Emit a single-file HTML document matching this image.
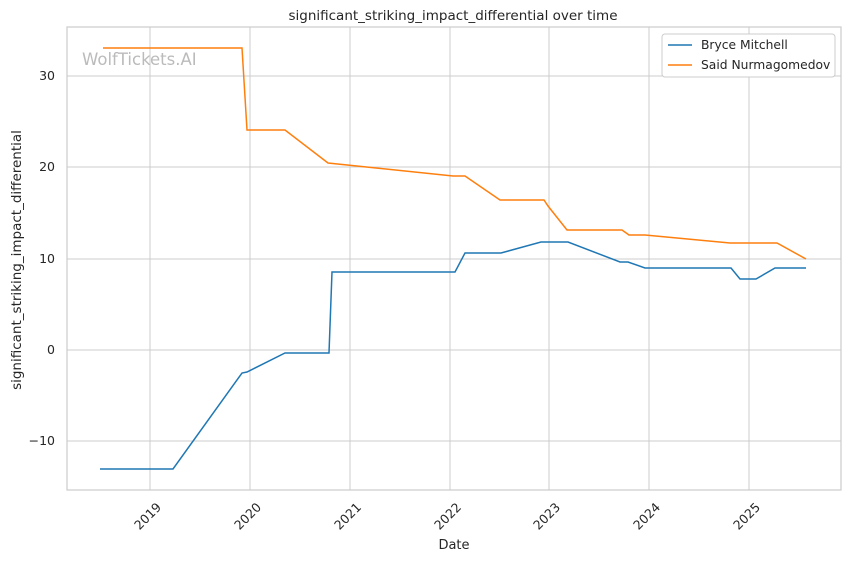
<!DOCTYPE html>
<html><head><meta charset="utf-8"><style>
body{margin:0;background:#fff;}
svg{display:block;font-family:"DejaVu Sans","Liberation Sans",sans-serif;}
</style></head><body>
<svg width="850" height="561" viewBox="0 0 850 561" xmlns="http://www.w3.org/2000/svg">
<rect width="850" height="561" fill="#fff"/>
<g stroke="#cccccc" stroke-width="1">
<line x1="150" y1="27" x2="150" y2="490"/><line x1="250" y1="27" x2="250" y2="490"/>
<line x1="350" y1="27" x2="350" y2="490"/><line x1="450" y1="27" x2="450" y2="490"/>
<line x1="549" y1="27" x2="549" y2="490"/><line x1="649" y1="27" x2="649" y2="490"/>
<line x1="749" y1="27" x2="749" y2="490"/>
<line x1="67" y1="76" x2="841" y2="76"/><line x1="67" y1="167" x2="841" y2="167"/>
<line x1="67" y1="259" x2="841" y2="259"/><line x1="67" y1="350" x2="841" y2="350"/>
<line x1="67" y1="441" x2="841" y2="441"/>
</g>
<rect x="67" y="27" width="774" height="463" fill="none" stroke="#cccccc" stroke-width="1.2"/>
<text x="82" y="65" font-size="16.5" fill="#bbbbbb">WolfTickets.AI</text>
<polyline fill="none" stroke="#ff7f0e" stroke-width="1.5" points="103,48 242,48 247,130 285,130 328,163 453,176 465,176 500,200 544,200 548,206 567,230 622,230 629,235 645,235 730,243 777,243 806,259"/>
<polyline fill="none" stroke="#1f77b4" stroke-width="1.5" points="100,469 173,469 242,373 247,372 285,353 329,353 332,272 455,272 465,253 501,253 541,242 568,242 620,262 628,262 645,268 731,268 740,279 756,279 775,268 806,268"/>
<g font-size="12.5" fill="#262626" text-anchor="end">
<text x="55" y="80">30</text><text x="55" y="171">20</text><text x="55" y="263">10</text>
<text x="55" y="354">0</text><text x="55" y="445">−10</text>
</g>
<g font-size="12.5" fill="#262626" text-anchor="end">
<text transform="translate(162,508) rotate(-45)">2019</text>
<text transform="translate(262,508) rotate(-45)">2020</text>
<text transform="translate(362,508) rotate(-45)">2021</text>
<text transform="translate(462,508) rotate(-45)">2022</text>
<text transform="translate(561,508) rotate(-45)">2023</text>
<text transform="translate(661,508) rotate(-45)">2024</text>
<text transform="translate(761,508) rotate(-45)">2025</text>
</g>
<text x="454" y="549" font-size="13" fill="#262626" text-anchor="middle">Date</text>
<text transform="translate(21,260) rotate(-90)" font-size="13.5" fill="#262626" text-anchor="middle">significant_striking_impact_differential</text>
<text x="453" y="20" font-size="13.5" fill="#262626" text-anchor="middle">significant_striking_impact_differential over time</text>
<rect x="662" y="34" width="173" height="43" rx="3" fill="#fff" stroke="#cccccc"/>
<line x1="668" y1="45" x2="692" y2="45" stroke="#1f77b4" stroke-width="1.5"/>
<text x="701" y="49" font-size="12.3" fill="#262626">Bryce Mitchell</text>
<line x1="668" y1="65" x2="692" y2="65" stroke="#ff7f0e" stroke-width="1.5"/>
<text x="701" y="69" font-size="12.3" fill="#262626">Said Nurmagomedov</text>
</svg>
</body></html>
